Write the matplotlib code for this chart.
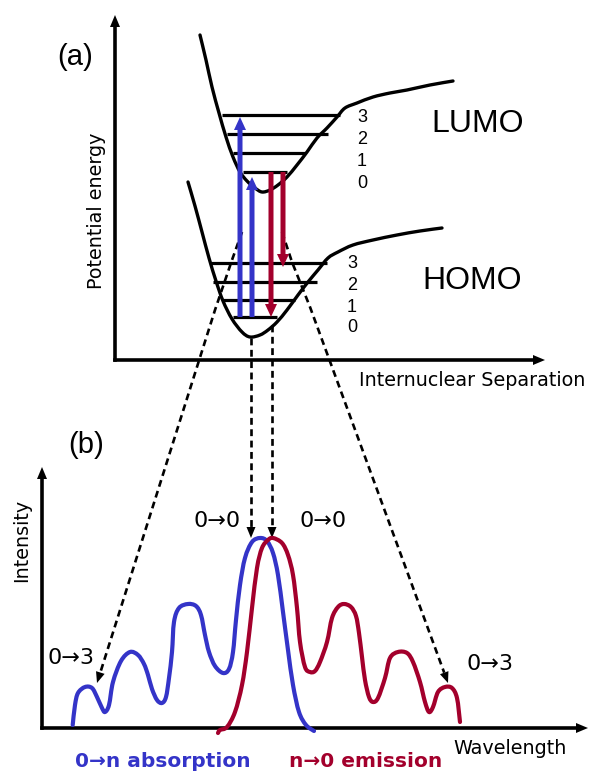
import numpy as np
import matplotlib
matplotlib.use("Agg")
import matplotlib.pyplot as plt
from matplotlib.path import Path
from matplotlib.patches import PathPatch

# ---------------- data (diagram units = reference pixels) ----------------
# (a) potential energy curves
lumo_x = [200, 206, 212, 219, 226, 233, 240, 247, 255, 262, 270, 278, 287, 297, 307, 317, 327, 337, 345, 357, 373, 390, 407, 430, 453]
lumo_y = [35, 60, 87, 113, 137, 157, 172, 181, 188, 192, 190, 185, 177, 165, 152, 138, 128, 117, 108, 103, 97, 93, 90, 85, 81]
homo_x = [188, 195, 202, 209, 216, 223, 232, 242, 250, 260, 268, 277, 287, 298, 308, 318, 328, 338, 353, 373, 397, 420, 442]
homo_y = [182, 206, 232, 258, 281, 301, 319, 332, 337, 335, 330, 322, 310, 295, 282, 270, 258, 252, 245, 240, 235, 231, 228]

# vibrational levels 0..3
lumo_lvl_y = [172, 153, 134, 115]
lumo_lvl_x0 = [243, 233, 227, 222]
lumo_lvl_x1 = [287, 305, 328, 340]
homo_lvl_y = [317, 300, 282, 263]
homo_lvl_x0 = [233, 223, 213, 210]
homo_lvl_x1 = [277, 295, 317, 327]
level_labels = ["0", "1", "2", "3"]
lumo_lab_y = [183, 161, 139, 117]
homo_lab_y = [328, 307, 285, 263]

# transitions
abs_arrow_x = [240, 252]
abs_arrow_y0 = [317, 317]
abs_arrow_y1 = [117, 177]
emi_arrow_x = [271, 283]
emi_arrow_y0 = [172, 172]
emi_arrow_y1 = [317, 267]

# dashed projection lines
left_dash_x = [242, 232, 215, 97]
left_dash_y = [232, 260, 310, 683]
right_dash_x = [282, 292, 310, 448]
right_dash_y = [232, 262, 307, 683]
vert_dash_x = [251, 272]
vert_dash_y0 = [338, 325]
vert_dash_y1 = [538, 538]

# (b) spectra
abs_x = [72.7, 75, 78, 85, 92, 97, 102, 105, 109, 113, 121, 130, 138, 144, 148, 152, 157, 162, 166, 169, 172, 174,
         179, 188, 196, 201, 205, 209, 215, 223, 229, 233, 236, 240, 245, 252, 260, 267, 273, 278, 283, 288, 293, 299,
         306, 314]
abs_y = [725, 705, 693, 687, 688, 697, 708, 712, 705, 682, 661, 652, 655, 664, 675, 689, 700, 703, 697, 678, 652, 622,
         608, 604, 606, 615, 635, 652, 666, 673, 669, 652, 620, 585, 558, 542, 538, 541, 553, 575, 612, 650, 685, 712,
         725, 731]
emi_x = [218, 220, 227, 235, 242, 247, 252, 257, 262, 268, 273, 282, 288, 293, 297, 300, 305, 310, 315, 320, 327, 332,
         338, 344, 351, 356, 359, 362, 365, 369, 373, 378, 385, 390, 398, 407, 413, 420, 425, 429, 433, 438, 445, 452,
         457, 460]
emi_y = [733, 730, 727, 712, 685, 652, 608, 568, 548, 540, 538, 543, 555, 575, 608, 642, 667, 672, 671, 662, 642, 618,
         607, 604, 607, 616, 633, 657, 680, 697, 702, 698, 678, 658, 652, 653, 662, 682, 702, 712, 707, 692, 687, 688,
         698, 722]

BLUE = "#3434c8"
RED = "#a3002c"
SANS = ["Liberation Sans", "DejaVu Sans"]
ARROWFONT = ["DejaVu Sans"]
THIN = ["DejaVu Sans"]

# ---------------- figure ----------------
fig = plt.figure(figsize=(5.89, 7.72), dpi=100)
ax = fig.add_axes([0, 0, 1, 1])
ax.set_xlim(0, 589)
ax.set_ylim(772, 0)
ax.axis("off")


def smooth_curve(xs, ys, color, lw, zorder=3):
    """Draw a smooth curve passing through the given points (Catmull-Rom as Bezier path)."""
    p = np.column_stack([xs, ys]).astype(float)
    verts = [p[0]]
    codes = [Path.MOVETO]
    n = len(p)
    for i in range(n - 1):
        p0 = p[i - 1] if i > 0 else p[i]
        p1 = p[i]
        p2 = p[i + 1]
        p3 = p[i + 2] if i + 2 < n else p[i + 1]
        c1 = p1 + (p2 - p0) / 6.0
        c2 = p2 - (p3 - p1) / 6.0
        verts += [c1, c2, p2]
        codes += [Path.CURVE4] * 3
    patch = PathPatch(Path(verts, codes), fill=False, edgecolor=color, lw=lw,
                      capstyle="round", joinstyle="round", zorder=zorder)
    ax.add_patch(patch)


def axis_arrow(x0, y0, x1, y1):
    ax.arrow(x0, y0, x1 - x0, y1 - y0, width=3.6, head_width=10, head_length=12,
             length_includes_head=True, fc="black", ec="none", zorder=3)

# axes of panel (a)
axis_arrow(115, 361.8, 115, 15)
axis_arrow(113.2, 360, 545, 360)
# axes of panel (b)
axis_arrow(42, 729.8, 42, 467)
axis_arrow(40.2, 728, 588, 728)

# potential curves
smooth_curve(lumo_x, lumo_y, "black", 2.4)
smooth_curve(homo_x, homo_y, "black", 2.4)
ax.hlines(lumo_lvl_y, lumo_lvl_x0, lumo_lvl_x1, color="black", lw=2.3)
ax.hlines(homo_lvl_y, homo_lvl_x0, homo_lvl_x1, color="black", lw=2.3)

for lab, y in zip(level_labels, lumo_lab_y):
    ax.text(362, y, lab, fontsize=13, family=SANS, ha="center", va="center")
for lab, y in zip(level_labels, homo_lab_y):
    ax.text(352, y, lab, fontsize=13, family=SANS, ha="center", va="center")

# dashed projection lines with arrow heads
def dashed_arrow(xs, ys, hl=11, hw=9):
    xs = np.asarray(xs, float)
    ys = np.asarray(ys, float)
    d = np.array([xs[-1] - xs[-2], ys[-1] - ys[-2]])
    u = d / np.hypot(*d)
    bx, by = xs[-1] - u[0] * hl, ys[-1] - u[1] * hl
    px = np.r_[xs[:-1], bx]
    py = np.r_[ys[:-1], by]
    ax.plot(px, py, color="black", lw=1.9, ls=(0, (2.6, 1.7)), zorder=2)
    ax.arrow(bx, by, u[0] * hl, u[1] * hl, width=0.01, head_width=hw, head_length=hl,
             length_includes_head=True, fc="black", ec="none", zorder=3)

dashed_arrow(left_dash_x, left_dash_y)
dashed_arrow(right_dash_x, right_dash_y)
for x, y0, y1 in zip(vert_dash_x, vert_dash_y0, vert_dash_y1):
    dashed_arrow([x, x], [y0, y1])

# transition arrows
for x, y0, y1 in zip(abs_arrow_x, abs_arrow_y0, abs_arrow_y1):
    ax.arrow(x, y0, 0, y1 - y0, width=5, head_width=12, head_length=13,
             length_includes_head=True, fc=BLUE, ec="none", zorder=4)
for x, y0, y1 in zip(emi_arrow_x, emi_arrow_y0, emi_arrow_y1):
    ax.arrow(x, y0, 0, y1 - y0, width=5, head_width=12, head_length=13,
             length_includes_head=True, fc=RED, ec="none", zorder=4)

# spectra
smooth_curve(abs_x, abs_y, BLUE, 3.0)
smooth_curve(emi_x, emi_y, RED, 3.0)

# texts
ax.text(75, 57, "(a)", fontsize=21, family=SANS, ha="center", va="center")
ax.text(86, 445, "(b)", fontsize=21, family=SANS, ha="center", va="center")
ax.text(478, 124, "LUMO", fontsize=23, family=SANS, ha="center", va="center")
ax.text(472, 281, "HOMO", fontsize=23, family=SANS, ha="center", va="center")
ax.text(96, 211, "Potential energy", fontsize=13.8, family=THIN, rotation=90, ha="center", va="center")
ax.text(472, 380, "Internuclear Separation", fontsize=13.8, family=THIN, ha="center", va="center")
ax.text(22, 540, "Intensity", fontsize=13.8, family=THIN, rotation=90, ha="center", va="center")
ax.text(510, 748, "Wavelength", fontsize=13.8, family=THIN, ha="center", va="center")
ax.text(217, 521, "0\u21920", fontsize=16, family=ARROWFONT, ha="center", va="center")
ax.text(323, 521, "0\u21920", fontsize=16, family=ARROWFONT, ha="center", va="center")
ax.text(71, 658, "0\u21923", fontsize=16, family=ARROWFONT, ha="center", va="center")
ax.text(490, 664, "0\u21923", fontsize=16, family=ARROWFONT, ha="center", va="center")
ax.text(163, 767, "0\u2192n absorption", fontsize=14.5, family=ARROWFONT, weight="bold", color=BLUE,
        ha="center", va="baseline")
ax.text(366, 767, "n\u21920 emission", fontsize=14.5, family=ARROWFONT, weight="bold", color=RED,
        ha="center", va="baseline")

fig.savefig("out.png", dpi=100)
